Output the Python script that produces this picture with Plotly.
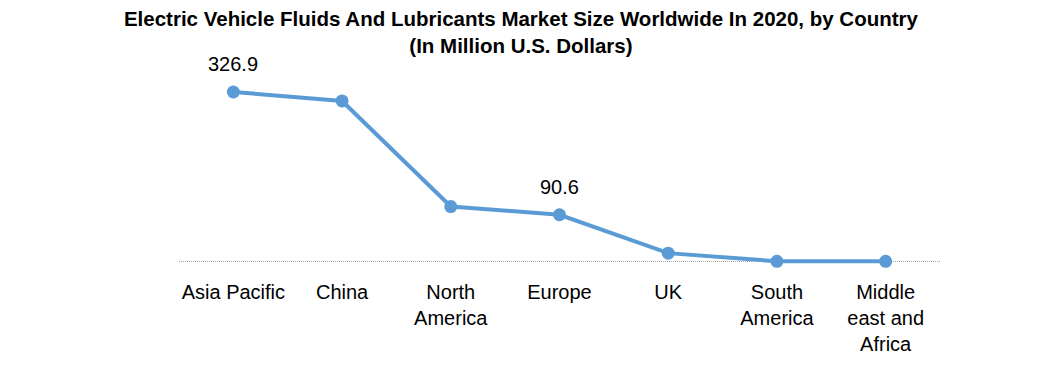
import plotly.graph_objects as go

categories = ["Asia Pacific", "China", "North<br>America", "Europe", "UK", "South<br>America", "Middle<br>east and<br>Africa"]
values = [326.9, 309.6, 106.4, 90.6, 16.7, 1.0, 1.0]
labels = ["326.9", "", "", "90.6", "", "", ""]

title_text = "Electric Vehicle Fluids And Lubricants Market Size Worldwide In 2020, by Country<br>(In Million U.S. Dollars)"

fig = go.Figure()
fig.add_trace(go.Scatter(
    x=categories, y=values, mode="lines+markers",
    line=dict(color="#5B9BD5", width=4),
    marker=dict(color="#5B9BD5", size=13),
    cliponaxis=False,
))

for c, v, t in zip(categories, values, labels):
    if t:
        fig.add_annotation(x=c, y=v, text=t, showarrow=False, yshift=28,
                           font=dict(family="Liberation Sans", size=20, color="#000000"))

fig.update_layout(
    width=1046, height=389,
    margin=dict(l=171, r=114, t=46, b=130),
    paper_bgcolor="white", plot_bgcolor="white",
    showlegend=False,
    title=dict(text=title_text, x=0.4904, xanchor="center", y=0.954, yanchor="top",
               font=dict(family="Liberation Sans", size=20.5, color="#000000", weight="bold")),
    xaxis=dict(showgrid=False, showline=False, zeroline=False,
               range=[-0.5, 6.5], automargin=False,
               tickfont=dict(family="Liberation Sans", size=20, color="#000000"),
               ticks="", ticklabelstandoff=11),
    yaxis=dict(range=[-10, 400], showgrid=True, tickvals=[0], griddash="1px,1px",
               gridcolor="#a6a6a6", gridwidth=1, showticklabels=False, ticks="",
               showline=False, zeroline=False, automargin=False),
)

fig.write_html("out.html")
